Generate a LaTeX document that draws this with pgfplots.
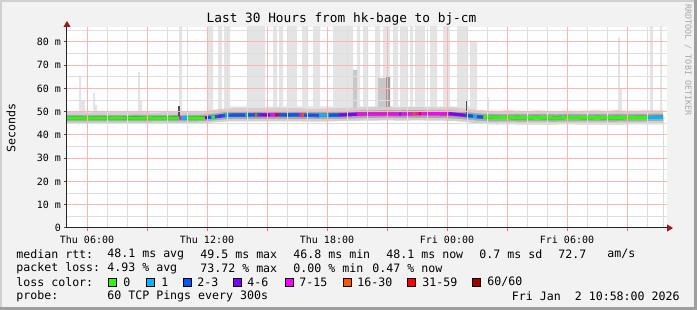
\documentclass[border=0pt]{standalone}
\usepackage{fontspec}
\setmainfont{DejaVu Sans Mono}
\usepackage{pgfplots}
\pgfplotsset{compat=1.18}
\usepackage{pgfplotstable}
\usetikzlibrary{arrows.meta}

\definecolor{bg}{HTML}{F2F2F2}
\definecolor{frameL}{HTML}{D0D0D0}
\definecolor{frameD}{HTML}{9E9E9E}
\definecolor{gridred}{HTML}{FFB4B4}
\definecolor{gridgray}{HTML}{DEDEDE}
\definecolor{arrowred}{HTML}{A01818}
\definecolor{spikeA}{HTML}{E4E4E4}
\definecolor{spikeB}{HTML}{C8C8C8}
\definecolor{spikeC}{HTML}{9A9A9A}
\definecolor{spikeD}{HTML}{505050}
\definecolor{smokeA}{HTML}{D0D0D0}
\definecolor{smokeB}{HTML}{A8A8A8}
\definecolor{smokeC}{HTML}{6E6E6E}
\definecolor{lzero}{HTML}{26FF00}
\definecolor{lone}{HTML}{00B8FF}
\definecolor{ltwo}{HTML}{0059FF}
\definecolor{lfour}{HTML}{7E00FF}
\definecolor{lseven}{HTML}{FF00FF}
\definecolor{lsixteen}{HTML}{FF5500}
\definecolor{lthirtyone}{HTML}{FF0000}
\definecolor{lsixty}{HTML}{A10000}

\newcommand\lf{\fontsize{5.8pt}{7pt}\selectfont}
\newcommand\tf{\fontsize{5pt}{6pt}\selectfont}

\pgfplotstableread{
h lo1 lo2 lo3 hi3 hi2 hi1
5.0  45.1 45.9 46.6 48.0 48.6 49.8
5.5  44.9 45.8 46.6 48.0 48.7 50.2
6.0  45.0 45.9 46.7 47.9 48.5 49.7
6.5  45.2 45.9 46.6 48.0 48.6 49.9
7.0  45.0 45.8 46.6 48.0 48.7 50.0
7.5  45.1 45.9 46.6 47.9 48.5 49.8
8.0  44.9 45.8 46.5 48.0 48.6 49.9
8.5  45.1 45.9 46.6 48.1 48.8 50.3
9.0  45.0 45.8 46.6 47.9 48.6 49.8
9.5  45.2 46.0 46.7 48.0 48.6 49.7
10.0 45.0 45.9 46.6 48.0 48.7 50.0
10.5 45.1 45.9 46.6 48.1 48.7 50.1
11.0 45.0 45.8 46.6 48.0 48.6 49.9
11.5 45.1 45.9 46.7 48.0 48.6 49.8
12.0 45.2 46.0 46.8 48.2 48.9 50.4
12.5 45.5 46.4 47.2 48.7 49.4 51.0
13.0 45.8 46.8 47.7 49.3 50.0 51.4
13.5 45.9 46.9 47.8 49.4 50.1 51.6
14.0 45.8 46.8 47.8 49.4 50.2 51.5
14.5 45.9 46.9 47.9 49.5 50.2 51.7
15.0 45.8 46.9 47.8 49.4 50.1 51.4
15.5 45.9 47.0 47.9 49.5 50.3 51.8
16.0 45.8 46.8 47.8 49.4 50.1 51.5
16.5 45.9 46.9 47.8 49.5 50.2 51.6
17.0 45.7 46.8 47.7 49.3 50.0 51.3
17.5 45.8 46.8 47.6 49.2 49.9 51.2
18.0 45.8 46.9 47.7 49.3 50.0 51.4
18.5 45.9 46.9 47.8 49.4 50.1 51.5
19.0 46.0 47.0 47.9 49.6 50.3 51.7
19.5 46.1 47.2 48.2 49.8 50.5 51.8
20.0 46.2 47.3 48.3 49.9 50.6 51.9
20.5 46.2 47.3 48.3 49.9 50.6 52.0
21.0 46.3 47.4 48.4 50.0 50.7 52.1
21.5 46.2 47.3 48.3 49.9 50.6 51.8
22.0 46.2 47.3 48.3 50.0 50.7 52.0
22.5 46.3 47.4 48.4 50.0 50.7 52.0
23.0 46.2 47.3 48.4 50.0 50.6 51.9
23.5 46.2 47.3 48.3 49.9 50.6 51.8
24.0 46.1 47.2 48.2 49.9 50.6 51.9
24.5 45.9 47.0 48.0 49.6 50.4 51.8
25.0 45.5 46.6 47.5 49.1 49.9 51.3
25.5 45.0 46.2 47.1 48.6 49.4 50.8
26.0 44.6 45.9 46.8 48.3 49.1 50.5
26.5 44.5 45.9 46.8 48.3 49.0 50.4
27.0 44.6 45.9 46.8 48.2 49.0 50.6
27.5 44.5 45.8 46.7 48.3 49.1 50.5
28.0 44.4 45.8 46.7 48.2 49.0 50.3
28.5 44.5 45.9 46.8 48.3 49.1 50.6
29.0 44.4 45.8 46.7 48.2 49.0 50.4
29.5 44.5 45.8 46.7 48.2 48.9 50.3
30.0 44.6 45.9 46.8 48.3 49.1 50.5
30.5 44.5 45.9 46.8 48.2 49.0 50.4
31.0 44.4 45.8 46.7 48.2 49.0 50.5
31.5 44.5 45.9 46.8 48.3 49.1 50.6
32.0 44.5 45.8 46.7 48.2 49.0 50.4
32.5 44.4 45.8 46.7 48.3 49.1 50.7
33.0 44.5 45.9 46.8 48.2 49.0 50.4
33.5 44.6 45.9 46.8 48.3 49.1 50.5
34.0 44.5 45.9 46.8 48.3 49.1 50.6
34.5 44.6 46.0 46.9 48.4 49.2 50.6
34.8 44.6 46.0 46.9 48.4 49.2 50.6
}\smoke

\begin{document}
\begin{tikzpicture}[font=\lf]
\useasboundingbox (0,0) rectangle (348.5pt,155pt);
\fill[bg] (0,0) rectangle (348.5pt,155pt);
\fill[frameL] (0,154pt) rectangle (348.5pt,155pt);
\fill[frameL] (0,0) rectangle (1pt,155pt);
\fill[frameD] (347pt,0) rectangle (348.5pt,155pt);
\fill[frameD] (0,0) rectangle (348.5pt,1.5pt);

\begin{axis}[
  at={(33.5pt,41pt)}, anchor=south west,
  scale only axis, width=300pt, height=100.5pt,
  xmin=5, xmax=35, ymin=0, ymax=86.45,
  axis background/.style={fill=white},
  axis on top,
  unbounded coords=jump,
  no markers,
  axis x line*=bottom, axis y line*=left,
  x axis line style={black!85, line width=0.5pt, -{Triangle[length=3pt,width=3.5pt,color=arrowred]}, shorten >=-3pt},
  y axis line style={black!85, line width=0.5pt, -{Triangle[length=3pt,width=3.5pt,color=arrowred]}, shorten >=-3pt},
  xtick={6,9,...,33},
  xticklabels={Thu 06:00,,Thu 12:00,,Thu 18:00,,Fri 00:00,,Fri 06:00,},
  ytick={0,10,...,80},
  yticklabels={0,10 m,20 m,30 m,40 m,50 m,60 m,70 m,80 m},
  grid=none,
  tick align=outside, major tick length=1.5pt,
  xtick style={draw=red!60, line width=0.5pt},
  ytick style={draw=black!70, line width=0.5pt},
  ticklabel style={font=\tf, text=black},
  xticklabel style={yshift=1.2pt},
  yticklabel style={xshift=2pt},
  /pgf/number format/assume math mode=true,
]
% light spikes (max values)
\addplot[fill=spikeA, draw=none] coordinates {
(5.6,48)(5.6,65.5)(5.7,65.5)(5.7,55)(5.9,55)(5.9,48)
(6.3,48)(6.3,58)(6.4,58)(6.4,53)(6.5,53)(6.5,48)
(8.55,48)(8.55,67)(8.65,67)(8.65,55)(8.75,55)(8.75,48)
(10.6,48)(10.6,90)(10.75,90)(10.75,48)
(12.05,48)(12.05,90)(12.3,90)(12.3,48)
(12.55,48)(12.55,90)(12.75,90)(12.75,48)
(12.85,48)(12.85,90)(13.15,90)(13.15,52.3)(14.05,52.3)
(14.05,90)(14.9,90)(14.9,52.3)(15.3,52.3)
(15.3,90)(15.5,90)(15.5,52.3)(15.6,52.3)
(15.6,90)(15.8,90)(15.8,52.3)(16.05,52.3)
(16.05,90)(16.5,90)(16.5,52.3)(16.75,52.3)
(16.75,90)(17.05,90)(17.05,52.3)(17.3,52.3)
(17.3,90)(17.65,90)(17.65,52.3)(18.3,52.3)
(18.3,90)(19.3,90)(19.3,52.3)(19.5,52.3)
(19.5,90)(19.65,90)(19.65,52.3)(19.8,52.3)
(19.8,90)(20.05,90)(20.05,52.3)(20.4,52.3)
(20.4,90)(20.65,90)(20.65,52.3)(20.8,52.3)
(20.8,90)(21.15,90)(21.15,52.3)(21.3,52.3)
(21.3,90)(21.55,90)(21.55,52.3)(21.65,52.3)
(21.65,90)(22.0,90)(22.0,52.3)(22.15,52.3)
(22.15,90)(22.3,90)(22.3,52.3)(22.4,52.3)
(22.4,90)(22.9,90)(22.9,52.3)(23.15,52.3)
(23.15,90)(23.5,90)(23.5,52.3)(23.8,52.3)
(23.8,90)(24.15,90)(24.15,52.3)(24.5,52.3)
(24.5,90)(25.0,90)(25.0,52.3)(25.15,52.3)
(25.15,80)(25.5,80)(25.5,48)
(26.0,48)(26.0,56)(26.1,56)(26.1,48)
(32.55,48)(32.55,82)(32.65,82)(32.65,60)(32.75,60)(32.75,48)
(34.15,48)(34.15,90)(34.3,90)(34.3,48)
(34.65,48)(34.65,90)(34.75,90)(34.75,48)
} \closedcycle;
% medium spikes
\addplot[fill=spikeB, draw=none] coordinates {
(19.3,48)(19.3,68)(19.5,68)(19.5,48)
(20.55,48)(20.55,64.5)(20.95,64.5)(20.95,48)
} \closedcycle;
\addplot[fill=spikeC, draw=none] coordinates {
(20.95,48)(20.95,65)(21.15,65)(21.15,48)
} \closedcycle;

% smoke, painted as nested areas
\addplot[fill=smokeA, draw=none] table[x=h,y=hi1]{\smoke} \closedcycle;
\addplot[fill=smokeB, draw=none] table[x=h,y=hi2]{\smoke} \closedcycle;
\addplot[fill=smokeC, draw=none] table[x=h,y=hi3]{\smoke} \closedcycle;
\addplot[fill=smokeB, draw=none] table[x=h,y=lo3]{\smoke} \closedcycle;
\addplot[fill=smokeA, draw=none] table[x=h,y=lo2]{\smoke} \closedcycle;
\addplot[fill=white, draw=none] table[x=h,y=lo1]{\smoke} \closedcycle;

% dark thin spikes
\addplot[fill=spikeD, draw=none] coordinates {
(10.57,48)(10.57,52.5)(10.63,52.5)(10.63,48)
} -- cycle;
\addplot[fill=spikeD, draw=none] coordinates {
(24.97,48)(24.97,55)(25.03,55)(25.03,48)
} -- cycle;

% median rtt coloured by loss
\addplot[lzero, line width=1.5pt, line cap=butt] coordinates {
(5.0,47.3)(6.5,47.3)(7.5,47.2)(9.0,47.2)(10.6,47.3)(10.6,nan)
(11.0,47.3)(11.9,47.3)(11.9,nan)
(12.25,47.7)(12.4,47.8)(12.4,nan)
(25.8,47.7)(26.5,47.6)(28,47.5)(29.5,47.4)(31,47.5)(33,47.5)(34.05,47.5)
};
\addplot[lone, line width=1.5pt, line cap=butt] coordinates {
(10.7,47.4)(11.0,47.3)(11.0,nan)
(12.2,47.6)(12.25,47.7)(12.25,nan)
(12.9,48.4)(13.1,48.5)(13.1,nan)
(13.9,48.6)(14.0,48.6)(14.0,nan)
(17.6,48.5)(18.1,48.5)(18.1,nan)
(25.3,48.1)(25.5,47.9)(25.5,nan)
(34.05,47.5)(34.8,47.6)
};
\addplot[ltwo, line width=1.5pt, line cap=butt] coordinates {
(12.0,47.5)(12.2,47.6)(12.2,nan)
(12.4,47.8)(12.6,48.0)(12.6,nan)
(12.7,48.2)(12.9,48.4)(12.9,nan)
(13.1,48.5)(13.9,48.6)(13.9,nan)
(14.0,48.6)(14.4,48.6)(14.4,nan)
(14.5,48.6)(14.65,48.6)(14.65,nan)
(15.6,48.6)(16.6,48.6)(16.6,nan)
(16.85,48.6)(17.6,48.5)(17.6,nan)
(18.1,48.5)(18.6,48.6)(18.6,nan)
(24.9,48.5)(25.3,48.1)(25.3,nan)
(25.5,47.9)(25.8,47.7)
};
\addplot[lfour, line width=1.5pt, line cap=butt] coordinates {
(11.9,47.3)(12.0,47.5)(12.0,nan)
(12.6,48.0)(12.7,48.2)(12.7,nan)
(14.65,48.6)(15.15,48.7)(15.15,nan)
(15.4,48.7)(15.5,48.7)(15.5,nan)
(18.6,48.6)(19.5,48.9)(19.5,nan)
(21.6,49.0)(21.7,49.0)(21.7,nan)
(24.1,49.2)(24.9,48.5)
};
\addplot[lseven, line width=1.5pt, line cap=butt] coordinates {
(10.6,47.5)(10.7,47.4)(10.7,nan)
(15.15,48.7)(15.4,48.7)(15.4,nan)
(16.6,48.6)(16.75,48.7)(16.75,nan)
(19.5,48.9)(20.5,49.0)(21.6,49.0)(21.6,nan)
(21.7,49.0)(22.3,49.1)(22.3,nan)
(22.4,49.1)(22.6,49.1)(22.6,nan)
(22.7,49.2)(23.5,49.2)(24.1,49.2)
};
\addplot[lsixteen, line width=1.5pt, line cap=butt] coordinates {
(14.4,48.6)(14.5,48.6)(14.5,nan)
(16.75,48.7)(16.85,48.6)(16.85,nan)
(22.3,49.1)(22.4,49.1)
};
\addplot[lthirtyone, line width=1.5pt, line cap=butt] coordinates {
(15.5,48.7)(15.6,48.6)(15.6,nan)
(22.6,49.1)(22.7,49.2)
};

% grid lines drawn on top of the data, as rrdtool does
\pgfplotsinvokeforeach{7,8,10,11,13,14,16,17,19,20,22,23,25,26,28,29,31,32,34}{
  \draw[gridgray, line width=0.5pt] (axis cs:#1,0) -- (axis cs:#1,86.45);
}
\pgfplotsinvokeforeach{5,15,25,35,45,55,65,75,85}{
  \draw[gridgray, line width=0.5pt] (axis cs:5,#1) -- (axis cs:35,#1);
}
\pgfplotsinvokeforeach{6,9,12,15,18,21,24,27,30,33}{
  \draw[gridred, line width=0.5pt] (axis cs:#1,0) -- (axis cs:#1,86.45);
}
\pgfplotsinvokeforeach{10,20,30,40,50,60,70,80}{
  \draw[gridred, line width=0.5pt] (axis cs:5,#1) -- (axis cs:35,#1);
}
\end{axis}

% title and labels
\node[font=\fontsize{6.4pt}{7.5pt}\selectfont] at (170.75pt,145.5pt) {Last 30 Hours from hk-bage to bj-cm};
\node[rotate=90] at (5.5pt,91pt) {Seconds};
\node[rotate=-90, text=black!35, font=\fontsize{4.2pt}{5pt}\selectfont] at (344pt,125pt) {RRDTOOL / TOBI OETIKER};

% legend rows
\begin{scope}[every node/.style={anchor=west, inner sep=0pt}]
\node at (8pt,28pt) {median rtt:};
\node at (53.5pt,28pt) {48.1 ms avg};
\node at (100pt,28pt) {49.5 ms max};
\node at (146.5pt,28pt) {46.8 ms min};
\node at (193pt,28pt) {48.1 ms now};
\node at (239.5pt,28pt) {0.7 ms sd};
\node at (279pt,28pt) {72.7};
\node at (303.5pt,28pt) {am/s};

\node at (8pt,21pt) {packet loss:};
\node at (53.5pt,21pt) {4.93 \% avg};
\node at (100pt,21pt) {73.72 \% max};
\node at (146.5pt,21pt) {0.00 \% min};
\node at (186pt,21pt) {0.47 \% now};

\node at (8pt,14pt) {loss color:};
\filldraw[fill=lzero, draw=black, line width=0.4pt] (54pt,11.7pt) rectangle ++(4.3pt,4.3pt);
\node at (61.5pt,14pt) {0};
\filldraw[fill=lone, draw=black, line width=0.4pt] (73pt,11.7pt) rectangle ++(4.3pt,4.3pt);
\node at (80.5pt,14pt) {1};
\filldraw[fill=ltwo, draw=black, line width=0.4pt] (91.5pt,11.7pt) rectangle ++(4.3pt,4.3pt);
\node at (98.5pt,14pt) {2-3};
\filldraw[fill=lfour, draw=black, line width=0.4pt] (116.5pt,11.7pt) rectangle ++(4.3pt,4.3pt);
\node at (123.5pt,14pt) {4-6};
\filldraw[fill=lseven, draw=black, line width=0.4pt] (142.5pt,11.7pt) rectangle ++(4.3pt,4.3pt);
\node at (149.5pt,14pt) {7-15};
\filldraw[fill=lsixteen, draw=black, line width=0.4pt] (171.5pt,11.7pt) rectangle ++(4.3pt,4.3pt);
\node at (178.5pt,14pt) {16-30};
\filldraw[fill=lthirtyone, draw=black, line width=0.4pt] (203.5pt,11.7pt) rectangle ++(4.3pt,4.3pt);
\node at (211pt,14pt) {31-59};
\filldraw[fill=lsixty, draw=black, line width=0.4pt] (236pt,11.7pt) rectangle ++(4.3pt,4.3pt);
\node at (243.5pt,14pt) {60/60};

\node at (8pt,7pt) {probe:};
\node at (53.5pt,7pt) {60 TCP Pings every 300s};
\node[anchor=east] at (340pt,7pt) {Fri Jan\ \ 2 10:58:00 2026};
\end{scope}
\end{tikzpicture}
\end{document}
